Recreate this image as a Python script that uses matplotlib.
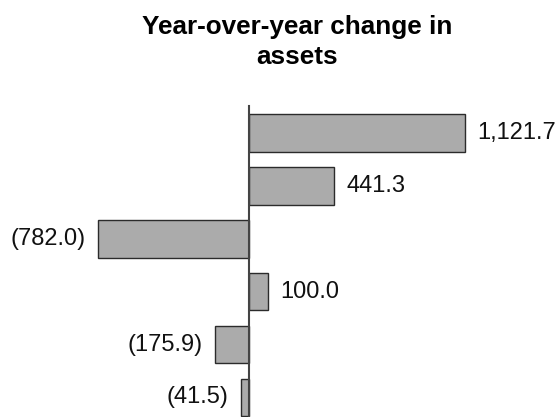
import matplotlib
matplotlib.use("Agg")
import matplotlib.pyplot as plt

# Year-over-year change in assets, by line item (top to bottom)
items = ["A", "B", "C", "D", "E", "F"]
changes = [1121.7, 441.3, -782.0, 100.0, -175.9, -41.5]

plt.rcParams["font.family"] = ["Liberation Sans", "DejaVu Sans"]

fig = plt.figure(figsize=(5.57, 4.17), dpi=100)
ax = fig.add_axes([0.0, 0.0, 1.0, 1 - 106 / 417])

positions = list(range(len(items)))
bars = ax.barh(positions, changes, height=0.71, color="#ababab",
               edgecolor="#2b2b2b", linewidth=1.0, zorder=2)


def fmt_value(v):
    return f"({abs(v):,.1f})" if v < 0 else f"{v:,.1f}"


ax.bar_label(bars, labels=[fmt_value(v) for v in changes], padding=9,
             fontsize=17, color="#111111")

ax.set_xlim(-1288, 1598)
ax.set_ylim(5.37, -0.51)

for side in ("top", "right", "bottom"):
    ax.spines[side].set_visible(False)
ax.spines["left"].set_position(("data", 0))
ax.spines["left"].set_color("#444444")
ax.spines["left"].set_linewidth(1.5)
ax.spines["left"].set_zorder(3)
ax.set_xticks([])
ax.set_yticks([])
ax.patch.set_alpha(0)

fig.text(0.534, 1 - 15 / 417, "Year-over-year change in\nassets",
         ha="center", va="top", fontsize=18.8, fontweight="bold",
         linespacing=1.3)

fig.savefig("out.png", dpi=100)
